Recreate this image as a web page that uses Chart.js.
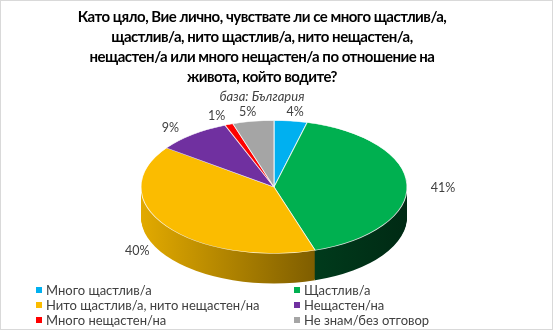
<!DOCTYPE html>
<html>
<head>
<meta charset="utf-8">
<script src="https://cdn.jsdelivr.net/npm/chart.js@4.4.1/dist/chart.umd.min.js"></script>
<style>
  html, body { margin: 0; padding: 0; background: #fff; }
  #wrap { position: relative; width: 553px; height: 330px; overflow: hidden; font-family: Lato, "Open Sans", sans-serif; }
  #pie { position: absolute; left: 0; top: 0; }
  #frame { position: absolute; inset: 0; border: 1px solid #d9d9d9; box-sizing: border-box; pointer-events: none; }
  #title { position: absolute; left: 0; width: 524px; top: 6px; text-align: center; font-weight: 700; font-size: 15px; letter-spacing: -0.5px; line-height: 20px; color: #000; }
  #base { position: absolute; left: 0; width: 524px; top: 88px; text-align: center; font-style: italic; font-size: 13px; line-height: 16px; color: #404040; }
  .leg { position: absolute; font-size: 13px; line-height: 16px; color: #404040; white-space: nowrap; }
  .leg i { display: inline-block; width: 6px; height: 6px; margin-right: 4px; vertical-align: 2px; }
</style>
</head>
<body>
<div id="wrap">
  <canvas id="pie" width="553" height="330"></canvas>
  <div id="title"></div>
  <div id="base"></div>
  <div id="legend"></div>
  <div id="frame"></div>
</div>
<script>
// ─── Data ─────────────────────────────────────────────────────────────────────

const TITLE_LINES = [
  "Като цяло, Вие лично, чувствате ли се много щастлив/а,",
  "щастлив/а, нито щастлив/а, нито нещастен/а,",
  "нещастен/а или много нещастен/а по отношение на",
  "живота, който водите?",
];
const BASE_NOTE = "база: България";

const LABELS = [
  "Много щастлив/а",
  "Щастлив/а",
  "Нито щастлив/а, нито нещастен/на",
  "Нещастен/на",
  "Много нещастен/на",
  "Не знам/без отговор",
];
const VALUES = [4, 41, 40, 9, 1, 5];

// ─── Style ────────────────────────────────────────────────────────────────────

const COLORS      = ["#00B0F0", "#00B050", "#FBBC00", "#7030A0", "#FF0000", "#A5A5A5"];
const SIDE_COLORS = [
  ["#0090C8", "#004A66"],
  ["#005A2A", "#002A14"],
  ["#E2AA00", "#4A3500"],
  ["#5A2682", "#2E1444"],
  ["#D00000", "#600000"],
  ["#8A8A8A", "#4A4A4A"],
];
const LABEL_COLOR = "#404040";

const PIE_CX = 274;
const PIE_CY = 187;
const PIE_RX = 133;
const TILT   = 0.5;
const DEPTH  = 30;

// ─── Text ─────────────────────────────────────────────────────────────────────

document.getElementById("title").innerHTML = TITLE_LINES.join("<br>");
document.getElementById("base").textContent = BASE_NOTE;

const LEG_COLS = [36, 294];
const LEG_ROWS = [282, 297, 312];
document.getElementById("legend").innerHTML = LABELS.map((lab, i) => {
  const left = LEG_COLS[i % 2];
  const top  = LEG_ROWS[Math.floor(i / 2)];
  return `<div class="leg" style="left:${left}px;top:${top}px"><i style="background:${COLORS[i]}"></i>${lab}</div>`;
}).join("");

// ─── Tilted pie plugin ────────────────────────────────────────────────────────

function toPie(ctx, arc, dy) {
  const k = PIE_RX / arc.outerRadius;
  ctx.translate(PIE_CX, PIE_CY + dy);
  ctx.scale(k, k * TILT);
  ctx.translate(-arc.x, -arc.y);
}

const tiltedPie = {
  id: "tiltedPie",
  beforeDatasetsDraw(chart) {
    const ctx  = chart.ctx;
    const arcs = chart.getDatasetMeta(0).data;
    const a0   = arcs[0];

    const fills = arcs.map((_, i) => {
      const g = ctx.createLinearGradient(a0.x - a0.outerRadius, 0, a0.x + a0.outerRadius, 0);
      g.addColorStop(0, SIDE_COLORS[i][0]);
      g.addColorStop(1, SIDE_COLORS[i][1]);
      return g;
    });

    // side wall: stacked copies of each slice, darker, shifted down
    for (let d = DEPTH; d >= 1; d--) {
      ctx.save();
      toPie(ctx, a0, d);
      arcs.forEach((arc, i) => {
        const saved = arc.options;
        arc.options = Object.assign({}, saved, { backgroundColor: fills[i], borderWidth: 0 });
        arc.draw(ctx);
        arc.options = saved;
      });
      ctx.restore();
    }

    ctx.save();
    toPie(ctx, a0, 0); // top face drawn by Chart.js, restored below
  },
  afterDatasetsDraw(chart) {
    const ctx = chart.ctx;
    ctx.restore();

    const arcs = chart.getDatasetMeta(0).data;
    const vals = chart.data.datasets[0].data;
    ctx.save();
    ctx.font = "12.5px Lato, 'Open Sans', sans-serif";
    ctx.fillStyle = LABEL_COLOR;
    ctx.textAlign = "center";
    ctx.textBaseline = "middle";
    arcs.forEach((arc, i) => {
      const mid = (arc.startAngle + arc.endAngle) / 2;
      const c   = Math.cos(mid);
      const s   = Math.sin(mid);
      const x   = PIE_CX + c * (PIE_RX + 36);
      const y   = PIE_CY + s * (PIE_RX + 24) * TILT + (s > 0 ? s * DEPTH : 3);
      ctx.fillText(`${vals[i]}%`, x, y);
    });
    ctx.restore();
  },
};

// ─── Chart ────────────────────────────────────────────────────────────────────

new Chart(document.getElementById("pie"), {
  type: "pie",
  data: {
    labels: LABELS,
    datasets: [{
      data: VALUES,
      backgroundColor: COLORS,
      borderColor: "rgba(255,255,255,0.85)",
      borderWidth: 1,
    }],
  },
  options: {
    responsive: false,
    animation: false,
    events: [],
    layout: { padding: { top: 32, bottom: 32, left: 10, right: 10 } },
    plugins: {
      legend: { display: false },
      tooltip: { enabled: false },
    },
  },
  plugins: [tiltedPie],
});
</script>
</body>
</html>
